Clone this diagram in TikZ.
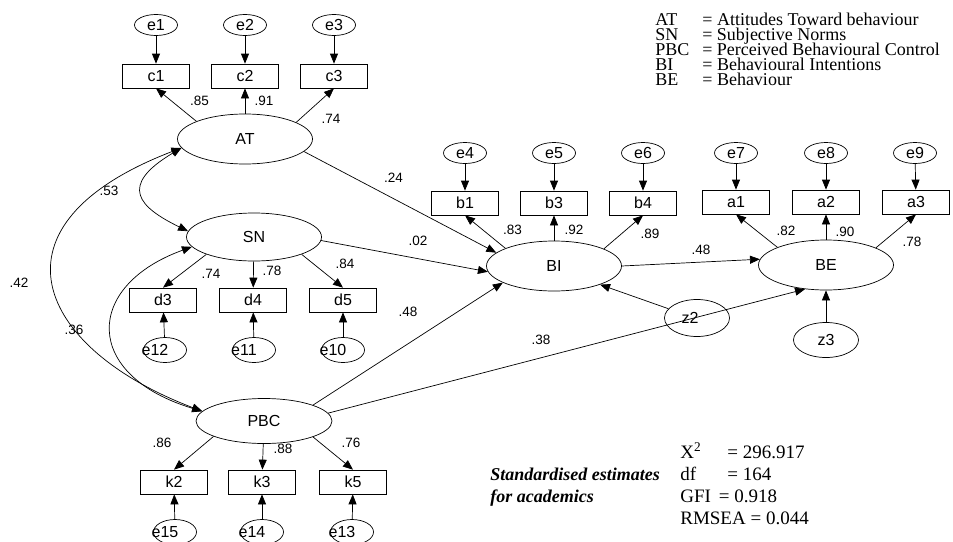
\documentclass[tikz,border=0pt]{standalone}
\usepackage{fontspec}
\setmainfont{Liberation Serif}
\setsansfont{Liberation Sans}
\usetikzlibrary{arrows.meta,shapes.geometric}
\tikzset{
  >={Triangle[length=10pt,width=8pt]},
  lv/.style={ellipse,draw=black,minimum width=135pt,minimum height=50pt,inner sep=0pt,
    font=\sffamily\fontsize{16}{16}\selectfont},
  ov/.style={rectangle,draw=black,minimum width=67pt,minimum height=24pt,inner sep=0pt,
    font=\sffamily\fontsize{16}{16}\selectfont},
  er/.style={ellipse,draw=black,minimum width=43pt,minimum height=21pt,inner sep=0pt,
    font=\sffamily\fontsize{16}{16}\selectfont},
  erb/.style={er,minimum height=25pt},
  dist/.style={er,minimum width=65pt,minimum height=36pt},
  wt/.style={inner sep=0pt,font=\sffamily\fontsize{13.5}{14}\selectfont},
  keyt/.style={anchor=base west,inner sep=0pt,font=\fontsize{18}{15}\selectfont},
  fitt/.style={anchor=base west,inner sep=0pt,font=\fontsize{19}{22}\selectfont},
}
\begin{document}
\begin{tikzpicture}[x=1pt,y=-1pt,line width=0.7pt]
\useasboundingbox (0,0) rectangle (953,541);
% \draw[help lines,step=50] (0,0) grid (953,541);
% attitudes and its indicators
\node (e1) [er] at (156,25) {e1};
\node (e2) [er] at (245,25) {e2};
\node (e3) [er] at (334,25) {e3};
\node (c1) [ov] at (156,76) {c1};
\node (c2) [ov] at (245,76) {c2};
\node (c3) [ov] at (334,76) {c3};
\node (AT) [lv] at (245,139) {AT};
%
\node (SN) [lv,minimum height=48pt] at (254,237) {SN};
\node (d3) [ov] at (163,300) {d3};
\node (d4) [ov] at (253,300) {d4};
\node (d5) [ov] at (343,300) {d5};
\node (e12) [erb] at (165,350) {\kern-10pt e12\kern10pt};
\node (e11) [erb] at (254,350) {\kern-10pt e11\kern10pt};
\node (e10) [erb] at (343,350) {\kern-10pt e10\kern10pt};
%
\node (PBC) [lv,minimum width=136pt,minimum height=45pt] at (264,421) {PBC};
\node (k2) [ov] at (174,482) {k2};
\node (k3) [ov] at (262,482) {k3};
\node (k5) [ov] at (353,482) {k5};
\node (e15) [erb] at (175,532) {\kern-10pt e15\kern10pt};
\node (e14) [erb] at (262,532) {\kern-10pt e14\kern10pt};
\node (e13) [erb] at (352,532) {\kern-10pt e13\kern10pt};
%
\node (e4) [er] at (465,153) {e4};
\node (e5) [er] at (554,153) {e5};
\node (e6) [er] at (643,153) {e6};
\node (b1) [ov] at (465,203) {b1};
\node (b3) [ov] at (554,203) {b3};
\node (b4) [ov] at (643,203) {b4};
\node (BI) [lv] at (554,266) {BI};
%
\node (e7) [er] at (736,153) {e7};
\node (e8) [er] at (826,153) {e8};
\node (e9) [er] at (915,153) {e9};
\node (a1) [ov] at (736,202) {a1};
\node (a2) [ov] at (826,202) {a2};
\node (a3) [ov] at (916,202) {a3};
\node (BE) [lv] at (826,265) {BE};
\node (z2) [dist,minimum height=37pt] at (697,318) {\kern-7pt z2\kern7pt};
\node (z3) [dist,minimum height=35pt] at (826,340) {z3};
%
% error terms
\path[->] (e1) edge (c1) (e2) edge (c2) (e3) edge (c3);
\path[->] (e4) edge (b1) (e5) edge (b3) (e6) edge (b4);
\path[->] (e7) edge (a1) (e8) edge (a2) (e9) edge (a3);
\path[->] (e12) edge (d3) (e11) edge (d4) (e10) edge (d5);
\path[->] (e15) edge (k2) (e14) edge (k3) (e13) edge (k5);
\path[->] (z3) edge (BE) (z2.162) edge (BI.-22);
%
% loadings
\path[->] (AT.160) edge (c1.south) (AT) edge (c2) (AT.18) edge (c3.south);
\path[->] (SN.200) edge (d3.north) (SN) edge (d4) (SN.-20) edge (d5.north);
\path[->] (PBC.197) edge (k2.north) (PBC) edge (k3) (PBC.-18) edge (k5.north);
\path[->] (BI.160) edge (b1.south) (BI) edge (b3) (BI.19) edge (b4.south);
\path[->] (BE.160) edge (a1.south) (BE) edge (a2) (BE.19) edge (a3.south);
%
% structural paths
\path[->] (AT.-12) edge (BI.167);
\path[->] (SN.-3) edge (BI.185);
\path[->] (PBC.18) edge (BI.198);
\path[->] (PBC.7) edge (BE.229);
\path[->] (BI.east) edge (BE.175);
%
% covariances
\draw[<->] (AT.188) .. controls +(-64,38) and +(-49,-24) .. (SN.175);
\draw[<->] (AT.188) .. controls +(-201,77) and +(-166,-63) .. (PBC.171);
\draw[<->] (SN.189) .. controls +(-108,39) and +(-120,-36) .. (PBC.171);
%
\node (wc1) [wt] at (199.5,101) {.85};
\node (wc2) [wt] at (264,101) {.91};
\node (wc3) [wt] at (331,119) {.74};
\node (wd3) [wt] at (211,274) {.74};
\node (wd4) [wt] at (272,271) {.78};
\node (wd5) [wt] at (345,264) {.84};
\node (wk2) [wt] at (162,443) {.86};
\node (wk3) [wt] at (283,449) {.88};
\node (wk5) [wt] at (351,443) {.76};
\node (wb1) [wt] at (512.5,230) {.83};
\node (wb3) [wt] at (574,230) {.92};
\node (wb4) [wt] at (650,234) {.89};
\node (wa1) [wt] at (786,231) {.82};
\node (wa2) [wt] at (845,232) {.90};
\node (wa3) [wt] at (912,242) {.78};
\node (wATBI) [wt] at (393.5,178) {.24};
\node (wSNBI) [wt] at (418,241) {.02};
\node (wPBCBI) [wt] at (408,312) {.48};
\node (wPBCBE) [wt] at (541,340) {.38};
\node (wBIBE) [wt] at (701,250) {.48};
\node (cATSN) [wt] at (109,191) {.53};
\node (cATPBC) [wt] at (19,283) {.42};
\node (cSNPBC) [wt] at (74,330) {.36};
%
% key
\node (kAT) [keyt] at (655,25) {\makebox[47pt][l]{AT}= Attitudes Toward behaviour};
\node (kSN) [keyt] at (655,40) {\makebox[47pt][l]{SN}= Subjective Norms};
\node (kPBC) [keyt] at (655,55) {\makebox[47pt][l]{PBC}= Perceived Behavioural Control};
\node (kBI) [keyt] at (655,70) {\makebox[47pt][l]{BI}= Behavioural Intentions};
\node (kBE) [keyt] at (655,85) {\makebox[47pt][l]{BE}= Behaviour};
%
% fit indices
\node (fit) [fitt] at (680,458)
  {\begin{tabular}[t]{@{}l@{}}
   \makebox[47pt][l]{X\textsuperscript{2}}= 296.917\\
   \makebox[47pt][l]{df}= 164\\
   GFI \,= 0.918\\
   RMSEA = 0.044
   \end{tabular}};
\node (note) [anchor=base west,inner sep=0pt,font=\fontsize{18}{22}\selectfont\bfseries\itshape] at (490,480)
  {\begin{tabular}[t]{@{}l@{}}
   Standardised estimates\\
   for academics
   \end{tabular}};
\end{tikzpicture}
\end{document}
